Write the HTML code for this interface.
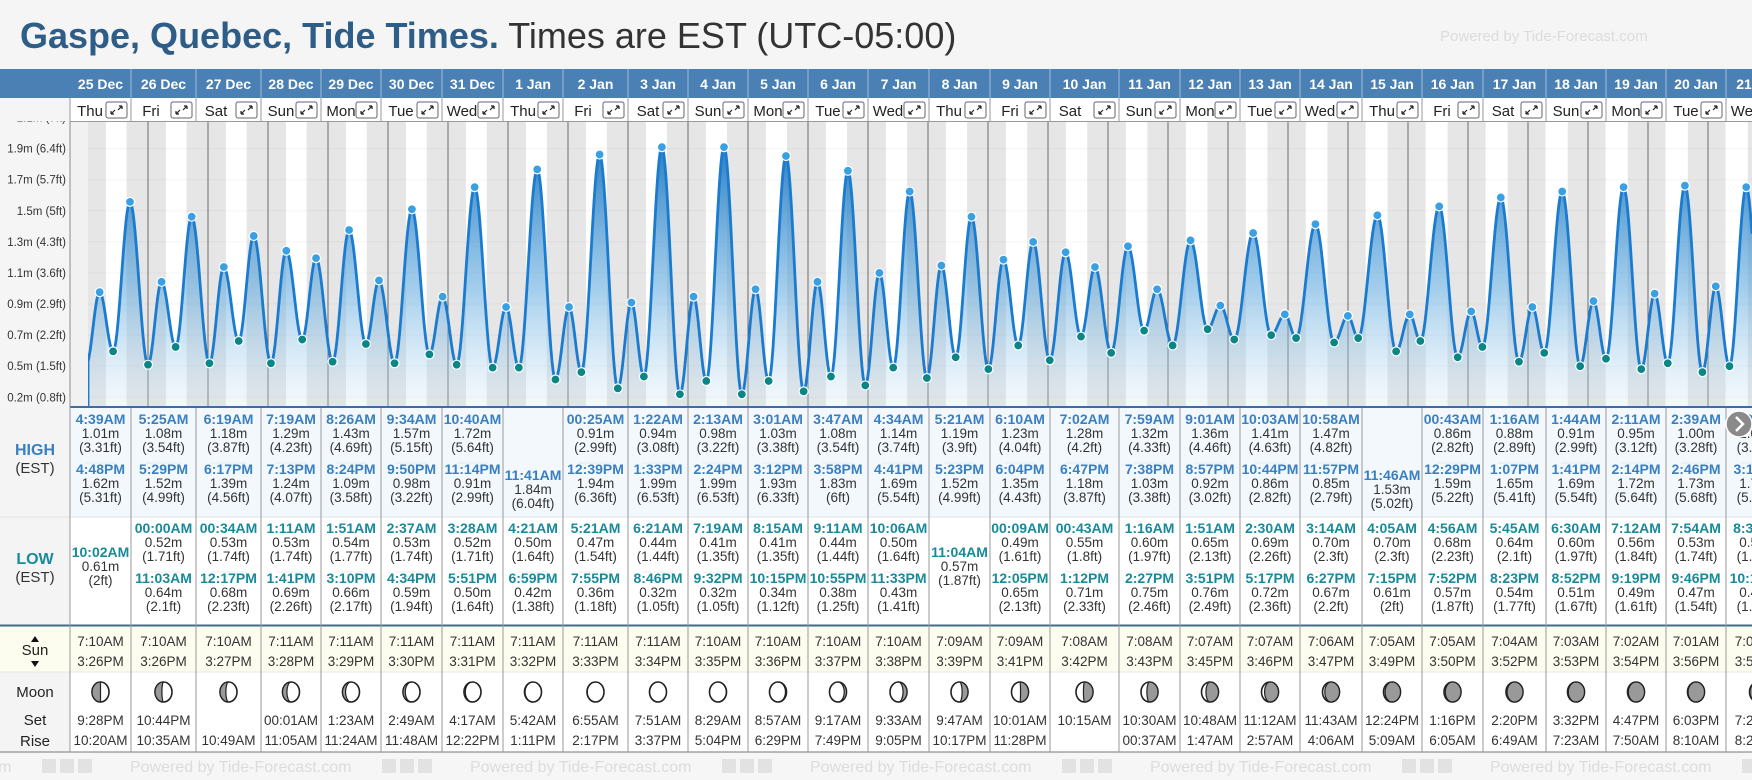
<!DOCTYPE html>
<html><head><meta charset="utf-8">
<style>
html,body{margin:0;padding:0;background:#f5f5f5;width:1752px;height:780px;overflow:hidden;font-family:"Liberation Sans",sans-serif}
svg{display:block}
text{font-family:"Liberation Sans",sans-serif}
</style></head>
<body>
<svg id="root" width="1752" height="780" viewBox="0 0 1752 780" xmlns="http://www.w3.org/2000/svg">
<defs>
<linearGradient id="fillg" x1="0" y1="0" x2="0" y2="1">
<stop offset="0" stop-color="#1f78c1" stop-opacity="0.95"/>
<stop offset="0.55" stop-color="#5aa6dc" stop-opacity="0.55"/>
<stop offset="1" stop-color="#cfe6f7" stop-opacity="0.25"/>
</linearGradient>
<clipPath id="chartclip"><rect x="88" y="122" width="1664" height="286"/></clipPath>
</defs>
<rect x="0" y="0" width="1752" height="780" fill="#f5f5f5"/>
<text x="20" y="48" font-size="36"><tspan font-weight="bold" fill="#2e5d87">Gaspe, Quebec, Tide Times.</tspan><tspan fill="#333"> Times are EST (UTC-05:00)</tspan></text>
<text x="1440" y="41" font-size="15" fill="#dcdcdc">Powered by Tide-Forecast.com</text>
<g id="layer"></g>
</svg>
<script>
const dates=["25 Dec","26 Dec","27 Dec","28 Dec","29 Dec","30 Dec","31 Dec","1 Jan","2 Jan","3 Jan","4 Jan","5 Jan","6 Jan","7 Jan","8 Jan","9 Jan","10 Jan","11 Jan","12 Jan","13 Jan","14 Jan","15 Jan","16 Jan","17 Jan","18 Jan","19 Jan","20 Jan","21 Jan"];
const weekdays=["Thu","Fri","Sat","Sun","Mon","Tue","Wed","Thu","Fri","Sat","Sun","Mon","Tue","Wed","Thu","Fri","Sat","Sun","Mon","Tue","Wed","Thu","Fri","Sat","Sun","Mon","Tue","Wed"];
const highTimes=[["4:39AM","4:48PM"],["5:25AM","5:29PM"],["6:19AM","6:17PM"],["7:19AM","7:13PM"],["8:26AM","8:24PM"],["9:34AM","9:50PM"],["10:40AM","11:14PM"],["11:41AM"],["00:25AM","12:39PM"],["1:22AM","1:33PM"],["2:13AM","2:24PM"],["3:01AM","3:12PM"],["3:47AM","3:58PM"],["4:34AM","4:41PM"],["5:21AM","5:23PM"],["6:10AM","6:04PM"],["7:02AM","6:47PM"],["7:59AM","7:38PM"],["9:01AM","8:57PM"],["10:03AM","10:44PM"],["10:58AM","11:57PM"],["11:46AM"],["00:43AM","12:29PM"],["1:16AM","1:07PM"],["1:44AM","1:41PM"],["2:11AM","2:14PM"],["2:39AM","2:46PM"],["3:07AM","3:18PM"]];
const highVals=[[1.01,1.62],[1.08,1.52],[1.18,1.39],[1.29,1.24],[1.43,1.09],[1.57,0.98],[1.72,0.91],[1.84],[0.91,1.94],[0.94,1.99],[0.98,1.99],[1.03,1.93],[1.08,1.83],[1.14,1.69],[1.19,1.52],[1.23,1.35],[1.28,1.18],[1.32,1.03],[1.36,0.92],[1.41,0.86],[1.47,0.85],[1.53],[0.86,1.59],[0.88,1.65],[0.91,1.69],[0.95,1.72],[1.00,1.73],[1.05,1.72]];
const lowTimes=[["10:02AM"],["00:00AM","11:03AM"],["00:34AM","12:17PM"],["1:11AM","1:41PM"],["1:51AM","3:10PM"],["2:37AM","4:34PM"],["3:28AM","5:51PM"],["4:21AM","6:59PM"],["5:21AM","7:55PM"],["6:21AM","8:46PM"],["7:19AM","9:32PM"],["8:15AM","10:15PM"],["9:11AM","10:55PM"],["10:06AM","11:33PM"],["11:04AM"],["00:09AM","12:05PM"],["00:43AM","1:12PM"],["1:16AM","2:27PM"],["1:51AM","3:51PM"],["2:30AM","5:17PM"],["3:14AM","6:27PM"],["4:05AM","7:15PM"],["4:56AM","7:52PM"],["5:45AM","8:23PM"],["6:30AM","8:52PM"],["7:12AM","9:19PM"],["7:54AM","9:46PM"],["8:36AM","10:12PM"]];
const lowVals=[[0.61],[0.52,0.64],[0.53,0.68],[0.53,0.69],[0.54,0.66],[0.53,0.59],[0.52,0.50],[0.50,0.42],[0.47,0.36],[0.44,0.32],[0.41,0.32],[0.41,0.34],[0.44,0.38],[0.50,0.43],[0.57],[0.49,0.65],[0.55,0.71],[0.60,0.75],[0.65,0.76],[0.69,0.72],[0.70,0.67],[0.70,0.61],[0.68,0.57],[0.64,0.54],[0.60,0.51],[0.56,0.49],[0.53,0.47],[0.51,0.46]];
const sunRise=["7:10AM","7:10AM","7:10AM","7:11AM","7:11AM","7:11AM","7:11AM","7:11AM","7:11AM","7:11AM","7:10AM","7:10AM","7:10AM","7:10AM","7:09AM","7:09AM","7:08AM","7:08AM","7:07AM","7:07AM","7:06AM","7:05AM","7:05AM","7:04AM","7:03AM","7:02AM","7:01AM","7:00AM"];
const sunSet=["3:26PM","3:26PM","3:27PM","3:28PM","3:29PM","3:30PM","3:31PM","3:32PM","3:33PM","3:34PM","3:35PM","3:36PM","3:37PM","3:38PM","3:39PM","3:41PM","3:42PM","3:43PM","3:45PM","3:46PM","3:47PM","3:49PM","3:50PM","3:52PM","3:53PM","3:54PM","3:56PM","3:57PM"];
const moonSet=["9:28PM","10:44PM","","00:01AM","1:23AM","2:49AM","4:17AM","5:42AM","6:55AM","7:51AM","8:29AM","8:57AM","9:17AM","9:33AM","9:47AM","10:01AM","10:15AM","10:30AM","10:48AM","11:12AM","11:43AM","12:24PM","1:16PM","2:20PM","3:32PM","4:47PM","6:03PM","7:20PM"];
const moonRise=["10:20AM","10:35AM","10:49AM","11:05AM","11:24AM","11:48AM","12:22PM","1:11PM","2:17PM","3:37PM","5:04PM","6:29PM","7:49PM","9:05PM","10:17PM","11:28PM","","00:37AM","1:47AM","2:57AM","4:06AM","5:09AM","6:05AM","6:49AM","7:23AM","7:50AM","8:10AM","8:25AM"];
const moonPhase=[0.25,0.28,0.30,0.33,0.36,0.38,0.41,0.44,0.46,0.49,0.53,0.58,0.62,0.66,0.70,0.74,0.77,0.80,0.83,0.86,0.88,0.90,0.91,0.92,0.93,0.93,0.94,0.95];
const tickLabels=["2.1m (7ft)","1.9m (6.4ft)","1.7m (5.7ft)","1.5m (5ft)","1.3m (4.3ft)","1.1m (3.6ft)","0.9m (2.9ft)","0.7m (2.2ft)","0.5m (1.5ft)","0.2m (0.8ft)"];
const tickVals=[2.19,1.98,1.77,1.56,1.35,1.14,0.93,0.72,0.51,0.30];

const colX=[70,131,196,261,321,381,442,503,563,628,688,748,808,868,929,990,1050,1119,1180,1240,1300,1362,1422,1483,1546,1606,1666,1726,1790];
const NS="http://www.w3.org/2000/svg";
const layer=document.getElementById('layer');
function mk(tag,attrs,parent,txt){const e=document.createElementNS(NS,tag);for(const k in attrs)e.setAttribute(k,attrs[k]);if(txt!==undefined)e.textContent=txt;(parent||layer).appendChild(e);return e;}
function parseT(s){const m=s.match(/(\d+):(\d+)(AM|PM)/);let h=+m[1]%12;if(m[3]=="PM")h+=12;return h+(+m[2])/60;}
function xT(day,hours){return 88+(day+hours/24)*60;}
function yH(h){return 364.7-(h-0.52)*148;}
function ft(m){let v=(m*3.28084).toFixed(2);v=v.replace(/\.?0+$/,'');return v;}

let bg=mk('rect',{x:70,y:122,width:1682,height:285,fill:'#f1f1f1'});


for(let d=0;d<dates.length;d++){
  const x0=xT(d,0),x1=xT(d+1,0);
  let n=mk('rect',{x:x0,y:122,width:x1-x0,height:285,fill:'#e6e6e6'});
  
  
  const r=xT(d,parseT(sunRise[d])),s=xT(d,parseT(sunSet[d]));
  let w=mk('rect',{x:r,y:122,width:s-r,height:285,fill:'#ffffff'});
  
  
}
for(let i=0;i<tickVals.length;i++){
  const y=yH(tickVals[i]);
  let g=mk('line',{x1:88,x2:1752,y1:y,y2:y,stroke:'#000',"stroke-opacity":0.04,"stroke-width":1});
  
  
  let t=mk('text',{x:66,y:y+4,"text-anchor":"end","font-size":11.5,fill:'#333'},layer,tickLabels[i]);
  
  
}
for(let d=1;d<dates.length;d++){
  const x=xT(d,0);
  let l=mk('line',{x1:x,x2:x,y1:122,y2:407,stroke:'#6a6a6a',"stroke-width":1});
  
  
}
const ev=[{t:-0.03,h:0.52,hi:false,show:false}];
for(let d=0;d<dates.length;d++){
  highTimes[d].forEach((s,i)=>ev.push({t:d+parseT(s)/24,h:highVals[d][i],hi:true,show:true}));
  lowTimes[d].forEach((s,i)=>ev.push({t:d+parseT(s)/24,h:lowVals[d][i],hi:false,show:true}));
}
ev.sort((a,b)=>a.t-b.t);
let pts=[];
for(let x=88;x<=1752;x++){
  const t=(x-88)/60;
  let i=0;while(i<ev.length-2&&ev[i+1].t<t)i++;
  const a=ev[i],b=ev[i+1];
  let f=(t-a.t)/(b.t-a.t);f=Math.max(0,Math.min(1,f));
  const h=a.h+(b.h-a.h)*(1-Math.cos(Math.PI*f))/2;
  pts.push([x,yH(h)]);
}
const cg=mk('g',{"clip-path":"url(#chartclip)"});


let area=mk('path',{d:'M88,407 L'+pts.map(p=>p[0]+','+p[1].toFixed(1)).join(' L')+' L1752,407 Z',fill:'url(#fillg)'},cg);


let line=mk('path',{d:'M88,407 L'+pts.map(p=>p[0]+','+p[1].toFixed(1)).join(' L'),fill:'none',stroke:'#1a7bcf',"stroke-width":2.8,"stroke-linejoin":"round"},cg);


ev.forEach(e=>{if(!e.show)return;const x=xT(0,e.t*24);
  let c=mk('circle',{cx:x,cy:yH(e.h),r:4.5,fill:e.hi?'#3aa0e4':'#0b8585',stroke:'#fff',"stroke-width":1.2},cg);
  
  
});
mk('line',{x1:70,x2:1752,y1:407,y2:407,stroke:'#3a6ea5',"stroke-width":2});

let hb=mk('rect',{x:0,y:69,width:1752,height:29,fill:'#4a80b4'});


mk('rect',{x:0,y:98,width:70,height:23,fill:'#f5f5f5'});
mk('rect',{x:70,y:98,width:1682,height:24,fill:'#fff'});
mk('line',{x1:70,x2:1752,y1:121.5,y2:121.5,stroke:'#999'});
mk('rect',{x:0,y:407,width:70,height:345,fill:'#f4f4f4'});
mk('rect',{x:70,y:408,width:1682,height:109,fill:'#f3f8fd'});
mk('rect',{x:70,y:517,width:1682,height:108,fill:'#ffffff'});
mk('rect',{x:0,y:626,width:1752,height:46,fill:'#fdfdef'});
mk('rect',{x:70,y:672,width:1682,height:80,fill:'#ffffff'});
mk('line',{x1:0,x2:1752,y1:517,y2:517,stroke:'#e2e2e2'});
mk('line',{x1:0,x2:1752,y1:625.5,y2:625.5,stroke:'#3d6b93',"stroke-width":2});
mk('line',{x1:0,x2:1752,y1:672,y2:672,stroke:'#e6e6e6'});
mk('line',{x1:0,x2:1752,y1:752,y2:752,stroke:'#777'});
mk('line',{x1:70,x2:70,y1:98,y2:752,stroke:'#8a8a8a',"stroke-width":1});
[['HIGH',455,'#3a7fc0',true,16],['(EST)',473,'#333',false,15],['LOW',564,'#188a9a',true,16],['(EST)',582,'#333',false,15],['Sun',655,'#222',false,15],['Moon',697,'#222',false,15],['Set',725,'#222',false,15],['Rise',746,'#222',false,15]].forEach(a=>{
  let t=mk('text',{x:35,y:a[1],"text-anchor":"middle","font-size":a[4],fill:a[2],"font-weight":a[3]?'bold':'normal'},layer,a[0]);
  
  
});
mk('path',{d:'M31,642 L35,636 L39,642 Z M31,661 L35,667 L39,661 Z',fill:'#111'});

function entry(cx,y,time,m,color){
  let t=mk('text',{x:cx,y:y,"text-anchor":"middle","font-size":14,"font-weight":"bold",fill:color},layer,time);
  
  
  let v=mk('text',{x:cx,y:y+14,"text-anchor":"middle","font-size":13.5,fill:'#333'},layer,m.toFixed(2)+'m');
  
  
  let f=mk('text',{x:cx,y:y+28,"text-anchor":"middle","font-size":13.5,fill:'#333'},layer,'('+ft(m)+'ft)');
  
  
}
function moonIcon(cx,cy,p){
  const r=10,rw=8.5;
  mk('ellipse',{cx:cx,cy:cy,rx:rw,ry:r,fill:'#fff',stroke:'#222',"stroke-width":1.6});
  const k=Math.cos(2*Math.PI*p),rx=Math.abs(k)*rw;
  let d;
  if(p<0.5){d=`M${cx},${cy-r} A${rw},${r} 0 0 0 ${cx},${cy+r} A${rx},${r} 0 0 ${k>0?0:1} ${cx},${cy-r} Z`;}
  else{d=`M${cx},${cy-r} A${rw},${r} 0 0 1 ${cx},${cy+r} A${rx},${r} 0 0 ${k<0?0:1} ${cx},${cy-r} Z`;}
  let m=mk('path',{d:d,fill:'#999',stroke:'#222',"stroke-width":1.2});
  
  
}
for(let d=0;d<dates.length;d++){
  const x0=colX[d],x1=colX[d+1],cx=(x0+x1)/2;
  let dt=mk('text',{x:cx,y:89,"text-anchor":"middle","font-size":14,"font-weight":"bold",fill:'#fff'},layer,dates[d]);
  
  
  if(d>0){mk('line',{x1:x0,x2:x0,y1:69,y2:98,stroke:'#9dbbd8'});}
  mk('line',{x1:x0,x2:x0,y1:98,y2:122,stroke:'#999'});
  mk('line',{x1:x0,x2:x0,y1:408,y2:752,stroke:'#999'});
  let wd=mk('text',{x:x0+20,y:116,"text-anchor":"middle","font-size":15,fill:'#222'},layer,weekdays[d]);
  
  
  const bx=x1-25;
  let b=mk('rect',{x:bx,y:102,width:21,height:16,rx:2,fill:'#fff',stroke:'#666'});
  
  
  mk('path',{d:`M${bx+5},${114} l4,-4 M${bx+5},${114} h3 M${bx+5},${114} v-3 M${bx+16},${106} l-4,4 M${bx+16},${106} h-3 M${bx+16},${106} v3`,stroke:'#222',"stroke-width":1.2,fill:'none'});
  const hc='#3a7fc0',lc='#188a9a';
  if(highTimes[d].length==2){
    entry(cx,424,highTimes[d][0],highVals[d][0],hc);
    mk('line',{x1:x0+15,x2:x1-15,y1:463,y2:463,stroke:'#e3e8ee'});
    entry(cx,474,highTimes[d][1],highVals[d][1],hc);
  } else entry(cx,480,highTimes[d][0],highVals[d][0],hc);
  if(lowTimes[d].length==2){
    entry(cx,533,lowTimes[d][0],lowVals[d][0],lc);
    mk('line',{x1:x0+15,x2:x1-15,y1:572,y2:572,stroke:'#eeeeee'});
    entry(cx,583,lowTimes[d][1],lowVals[d][1],lc);
  } else entry(cx,557,lowTimes[d][0],lowVals[d][0],lc);
  let sr=mk('text',{x:cx,y:646,"text-anchor":"middle","font-size":13.5,fill:'#333'},layer,sunRise[d]);
  
  
  let ss=mk('text',{x:cx,y:666,"text-anchor":"middle","font-size":13.5,fill:'#333'},layer,sunSet[d]);
  
  
  moonIcon(cx,692,moonPhase[d]);
  let ms=mk('text',{x:cx,y:725,"text-anchor":"middle","font-size":13.5,fill:'#333'},layer,moonSet[d]);
  
  
  let mr=mk('text',{x:cx,y:745,"text-anchor":"middle","font-size":13.5,fill:'#333'},layer,moonRise[d]);
  
  
}
let sb=mk('circle',{cx:1739,cy:424,r:13,fill:'#8a8a8a',stroke:'#fff',"stroke-width":1.5});


mk('path',{d:'M1736,417 L1743,424 L1736,431',fill:'none',stroke:'#fff',"stroke-width":2.5});
mk('rect',{x:0,y:753,width:1752,height:27,fill:'#f6f6f6'});
for(let i=0;i<6;i++){
  const x=-280+i*340;
  let f=mk('text',{x:x+70,y:772,"font-size":16,fill:'#dcdcdc'},layer,'Powered by Tide-Forecast.com');
  
  
  mk('rect',{x:x+322,y:759,width:14,height:14,fill:'#e2e2e2'});
  mk('rect',{x:x+340,y:759,width:14,height:14,fill:'#e2e2e2'});
  mk('rect',{x:x+358,y:759,width:14,height:14,fill:'#e2e2e2'});
}
</script>
</body></html>
